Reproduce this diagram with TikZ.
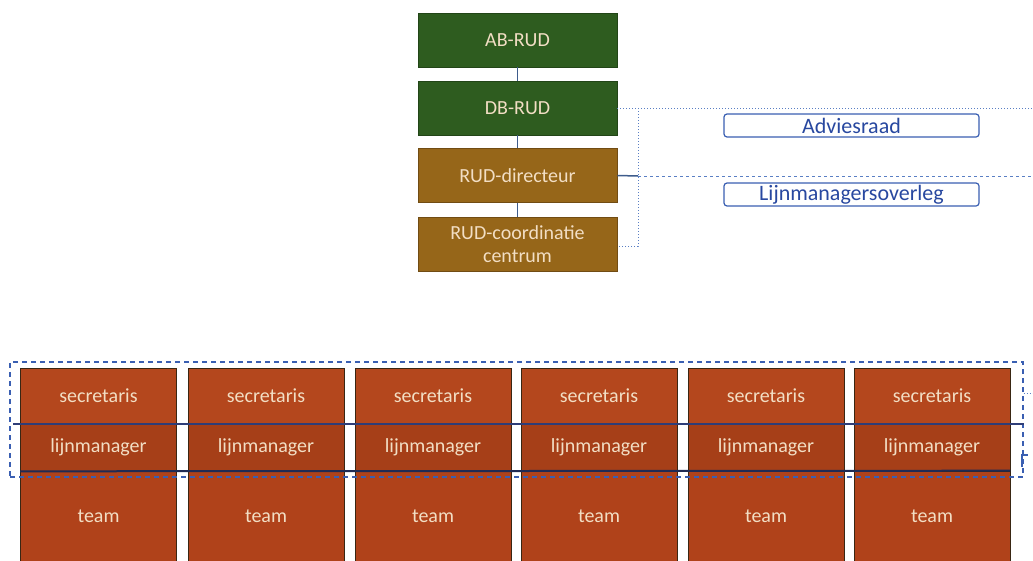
\documentclass[tikz,border=0pt]{standalone}
\usepackage{fontspec}
\setmainfont{Carlito}
\definecolor{grn}{HTML}{2E5C1F}
\definecolor{brn}{HTML}{966619}
\definecolor{secc}{HTML}{B4471D}
\definecolor{lmc}{HTML}{A63F18}
\definecolor{tmc}{HTML}{B0421A}
\definecolor{cream}{HTML}{F2DEC4}
\definecolor{lineblue}{HTML}{3E5C8C}
\definecolor{dotblue}{HTML}{5A7FC4}
\definecolor{rectblue}{HTML}{3A5FB2}
\definecolor{navy}{HTML}{2E3D78}
\definecolor{advtext}{HTML}{2848A0}
\begin{document}
\begin{tikzpicture}[x=1pt,y=-1pt,
  topbox/.style={draw=#1!75!black, line width=0.8pt, fill=#1, minimum width=199pt, minimum height=54pt, inner sep=0pt, text=cream, font=\fontsize{20}{24}\selectfont, align=center},
  colbox/.style={draw=black!70!brown, line width=0.6pt, fill=#1, minimum width=156pt, inner sep=0pt, text=cream, font=\fontsize{20}{24}\selectfont},
  advbox/.style={draw=rectblue, line width=1.2pt, rounded corners=3pt, fill=white, minimum width=255pt, minimum height=23pt, inner sep=0pt, text=advtext, font=\fontsize{22}{24}\selectfont},
  link/.style={draw=lineblue, line width=1.5pt},
  dotlink/.style={draw=dotblue, line width=1pt, dotted},
  dashlink/.style={draw=dotblue, line width=1pt, dash pattern=on 3pt off 3pt},
  divline/.style={draw=navy, line width=2pt}]
\useasboundingbox (0,0) rectangle (1033,560);

% top hierarchy
\node (ab) [topbox=grn] at (517.5,40) {AB-RUD};
\node (db) [topbox=grn] at (517.5,108) {DB-RUD};
\node (dir) [topbox=brn] at (517.5,175.5) {RUD-directeur};
\node (coord) [topbox=brn] at (517.5,244) {RUD-coordinatie\\[-1pt]centrum};
\draw[link] (ab) -- (db);
\draw[link] (db) -- (dir);
\draw[link] (dir) -- (coord);

% advisory boxes
\node (adv) [advbox] at (851.5,125.5) {Adviesraad};
\node (lmo) [advbox] at (851.5,194.5) {Lijnmanagersoverleg};

% dotted / dashed connectors
\coordinate (r1) at (1033,108);
\coordinate (r2) at (1033,176);
\coordinate (v1) at (638,108);
\coordinate (v2) at (638,176);
\coordinate (v3) at (638,246);
\draw[dotlink] (db.east) -- (r1);
\draw[dotlink] (v1) -- (v3) -- (coord.east |- v3);
\draw[link] (dir.east) -- (v2);
\draw[dashlink] (v2) -- (r2);

% columns
\foreach \i/\x in {1/98.5,2/266,3/433,4/599,5/766,6/932}{
  \node (sec\i) [colbox=secc, minimum height=55.5pt] at (\x,395.75) {secretaris};
  \node (lm\i) [colbox=lmc, minimum height=47.5pt] at (\x,447.25) {lijnmanager};
  \node (tm\i) [colbox=tmc, minimum height=91pt, text depth=0pt] at (\x,516.5) {team};
}

% group frame and divider lines
\node (grp) [draw=rectblue, line width=1.3pt, dash pattern=on 5pt off 4pt, minimum width=1013pt, minimum height=115pt, inner sep=0pt] at (516.5,419.5) {};
\draw[divline] (grp.west |- sec1.south) ++(4,0) -- (grp.east |- sec1.south);
\draw[divline, draw=navy!70!black] (sec1.south west |- lm1.south) -- (tm6.north east);
\coordinate (r3) at (1033,393);
\draw[dotlink] (grp.east |- r3) -- (r3);
\draw[draw=rectblue, line width=1.3pt] (1022,467) -- (1022,455) -- (1028,455);
\end{tikzpicture}
\end{document}
